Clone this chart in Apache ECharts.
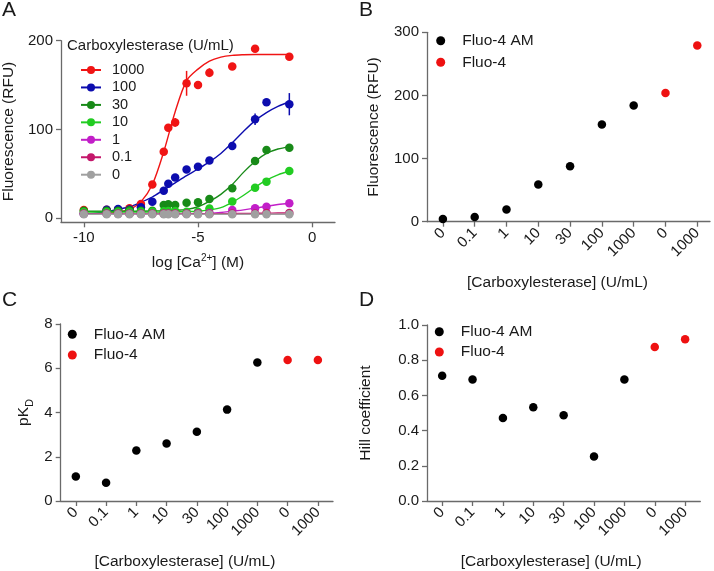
<!DOCTYPE html>
<html><head><meta charset="utf-8">
<script src="https://cdn.jsdelivr.net/npm/echarts@6/dist/echarts.min.js"></script>
<style>html,body{margin:0;padding:0;background:#fff}#c{width:714px;height:571px}</style>
</head><body><div id="c"></div>
<script>
// ---------- Panel A data ----------
const enzymeLevels = ['1000', '100', '30', '10', '1', '0.1', '0'];
const logCa = [-10, -9, -8.5, -8, -7.5, -7, -6.5, -6.3, -6, -5.5, -5, -4.5, -3.5, -2.5, -2, -1];
const pts1000 = [9.4, 9.5, 10, 11.3, 16, 38, 75, 102, 108, 152, 150, 164, 171, 191, null, 182];
const pts100  = [5, 9.5, 10.5, 10, 12.4, 18.7, 31, 39, 46, 55, 58, 65, 81.5, 111.6, 130.8, 128.5];
const pts30   = [8.5, 8.5, 8.5, 9, 8.6, 8.6, 15, 15.8, 15, 17.6, 18, 21.8, 33.8, 64.5, 77, 79.5];
const pts10   = [7, 7, 7, 7.5, 7.5, 7.5, 8, 8.3, 8.3, 7.5, 7.5, 11, 18.8, 34.5, 41.3, 53.3];
const pts1    = [5, 5, 5, 5, 5, 5, 5, 5, 5, 5, 5.5, 6, 9.4, 11.3, 13, 17];
const pts01   = [5, 5, 5, 5, 5, 5, 5, 5, 5, 5, 5, 5, 5.5, 5.5, 6, 6];
const pts0    = [4.5, 4.5, 4.5, 4.5, 4.5, 4.5, 4.5, 4.5, 4.5, 4.5, 4.5, 4.5, 4.5, 4.5, 4.5, 4.5];
const sd1000  = [0, 0, 0, 0, 0, 0, 0, 0, 5, 14, 0, 5, 0, 0, 0, 0];
const sd100   = [0, 0, 0, 0, 0, 0, 0, 0, 0, 0, 0, 0, 0, 6.5, 0, 12.5];
// fitted curves
const curveX   = [-10, -9.5, -9, -8.5, -8, -7.5, -7, -6.5, -6, -5.5, -5, -4.5, -4, -3.5, -3, -2.5, -2, -1.5, -1];
const fit1000  = [5.1, 5.2, 5.7, 6.9, 10, 18.5, 38, 75, 120, 155, 168, 177, 181.5, 183.5, 184.2, 184.5, 184.5, 184.5, 184.5];
const fit100   = [4.8, 5.8, 7.5, 10, 13, 18, 24, 32, 40, 48, 55.5, 63.5, 73, 85, 98, 110, 119, 126, 131];
const fit30    = [8, 8, 8, 8, 8, 8, 8.2, 8.5, 9, 10, 13, 19, 27, 38, 52, 64, 73, 78, 80.5];
const fit10    = [7, 7, 7, 7, 7, 7, 7, 7, 7.2, 7.5, 8, 9.5, 12, 18, 26, 35, 43, 49, 53];
const fit1     = [4.5, 4.5, 4.5, 4.5, 4.5, 4.5, 4.6, 4.7, 4.8, 5, 5.2, 5.6, 6.5, 8, 9.5, 11.5, 13.5, 15.5, 17];
const fit01    = [5, 5, 5, 5, 5, 5, 5, 5, 5, 5, 5, 5.1, 5.2, 5.3, 5.5, 5.6, 5.8, 5.9, 6];
const fit0     = [4.5, 4.5, 4.5, 4.5, 4.5, 4.5, 4.5, 4.5, 4.5, 4.5, 4.5, 4.5, 4.5, 4.5, 4.5, 4.5, 4.5, 4.5, 4.5];
const ticksAX = [-10, -5, 0];
const ticksAY = [0, 100, 200];

// ---------- Panels B, C, D data ----------
const enzymeCats = ['0', '0.1', '1', '10', '30', '100', '1000', '0', '1000'];
const amIdx = [0, 1, 2, 3, 4, 5, 6];
const freeIdx = [7, 8];
const fluoAM_B = [4.2, 7.4, 19.5, 59, 88, 154, 184];
const fluo_B = [204, 279];
const fluoAM_C = [1.11, 0.83, 2.28, 2.6, 3.13, 4.13, 6.26];
const fluo_C = [6.37, 6.37];
const fluoAM_D = [0.711, 0.69, 0.471, 0.533, 0.487, 0.253, 0.69];
const fluo_D = [0.875, 0.919];

// ---------- styling ----------
const FONT = '"Liberation Sans", Arial, sans-serif';
const palette = ['#f01414', '#0c0cae', '#188a18', '#22cc22', '#c21ec8', '#c4176b', '#a0a0a0'];
const AXIS = '#6a6a6a';
const TXT = '#1a1a1a';
const fitSets = [fit1000, fit100, fit30, fit10, fit1, fit01, fit0];
const ptSets = [pts1000, pts100, pts30, pts10, pts1, pts01, pts0];
const sdSets = [sd1000, sd100, null, null, null, null, null];

function baseAxisLine() { return { show: true, onZero: false, lineStyle: { color: AXIS, width: 1.3 } }; }
function tickStyle(extra) { return Object.assign({ show: true, length: 5, lineStyle: { color: AXIS, width: 1.3 } }, extra || {}); }

function catXAxis(grid, max, padRight) {
  const idx = enzymeCats.map((_, i) => i);
  return {
    type: 'value', gridIndex: grid, min: -0.5, max: max,
    axisLine: baseAxisLine(),
    axisTick: tickStyle({ customValues: idx }),
    axisLabel: { customValues: idx, rotate: 45, margin: 9, fontSize: 15, color: TXT, fontFamily: FONT,
      formatter: v => enzymeCats[Math.round(v)] },
    splitLine: { show: false },
    name: '[Carboxylesterase] (U/mL)', nameLocation: 'middle', nameGap: 53,
    nameTextStyle: { fontSize: 15.5, color: TXT, fontFamily: FONT, padding: [0, padRight, 0, 0] }
  };
}
function valYAxis(grid, min, max, interval, name, gap, fmt, rich) {
  const ax = {
    type: 'value', gridIndex: grid, min: min, max: max, interval: interval,
    axisLine: baseAxisLine(), axisTick: tickStyle(),
    axisLabel: { margin: 8, fontSize: 15, color: TXT, fontFamily: FONT, formatter: fmt },
    splitLine: { show: false },
    name: name, nameLocation: 'middle', nameGap: gap, nameRotate: 90,
    nameTextStyle: { fontSize: 15.5, color: TXT, fontFamily: FONT }
  };
  if (rich) ax.nameTextStyle.rich = rich;
  return ax;
}

const series = [];
// Panel A curves (first so that legend uses line+symbol icons)
enzymeLevels.forEach((name, k) => {
  series.push({
    type: 'line', name: name, xAxisIndex: 0, yAxisIndex: 0,
    data: curveX.map((x, i) => [x, fitSets[k][i]]),
    smooth: 0.3, symbol: 'circle', symbolSize: 8, showSymbol: false,
    lineStyle: { color: palette[k], width: 1.4 }, itemStyle: { color: palette[k] },
    silent: true, z: 2
  });
});
// error bars
enzymeLevels.forEach((name, k) => {
  const sd = sdSets[k];
  if (!sd) return;
  const d = [];
  logCa.forEach((x, i) => { if (sd[i] > 0 && ptSets[k][i] != null) d.push([x, ptSets[k][i] - sd[i], ptSets[k][i] + sd[i]]); });
  series.push({
    type: 'custom', xAxisIndex: 0, yAxisIndex: 0, data: d, silent: true, z: 3,
    renderItem: (params, api) => {
      const a = api.coord([api.value(0), api.value(1)]);
      const b = api.coord([api.value(0), api.value(2)]);
      return { type: 'line', shape: { x1: a[0], y1: a[1], x2: b[0], y2: b[1] }, style: { stroke: palette[k], lineWidth: 1.5 } };
    }
  });
});
// points
enzymeLevels.forEach((name, k) => {
  const d = [];
  logCa.forEach((x, i) => { if (ptSets[k][i] != null) d.push([x, ptSets[k][i]]); });
  series.push({
    type: 'scatter', name: name, xAxisIndex: 0, yAxisIndex: 0, data: d,
    symbol: 'circle', symbolSize: 8.5, itemStyle: { color: palette[k], opacity: 1 }, z: 4
  });
});
// Panels B, C, D
[[fluoAM_B, fluo_B], [fluoAM_C, fluo_C], [fluoAM_D, fluo_D]].forEach((pair, g) => {
  series.push({ type: 'scatter', name: 'Fluo-4 AM', xAxisIndex: g + 1, yAxisIndex: g + 1,
    data: amIdx.map((x, i) => [x, pair[0][i]]), symbolSize: 8.5, itemStyle: { color: '#000', opacity: 1 } });
  series.push({ type: 'scatter', name: 'Fluo-4', xAxisIndex: g + 1, yAxisIndex: g + 1,
    data: freeIdx.map((x, i) => [x, pair[1][i]]), symbolSize: 8.5, itemStyle: { color: '#ee1111', opacity: 1 } });
});

function fluoLegend(left, top, gap) {
  return { data: ['Fluo-4 AM', 'Fluo-4'], orient: 'vertical', left: left, top: top, padding: 0,
    itemWidth: 33, itemHeight: 9, itemGap: gap, icon: 'circle', selectedMode: false,
    textStyle: { fontSize: 15.5, lineHeight: 16, color: TXT, fontFamily: FONT } };
}

const option = {
  animation: false,
  backgroundColor: '#fff',
  textStyle: { fontFamily: FONT },
  title: [
    { text: 'A', left: 2, top: 0, padding: 0, textStyle: { fontSize: 21, fontWeight: 'normal', color: TXT, fontFamily: FONT } },
    { text: 'B', left: 359, top: 0, padding: 0, textStyle: { fontSize: 21, fontWeight: 'normal', color: TXT, fontFamily: FONT } },
    { text: 'C', left: 2, top: 290, padding: 0, textStyle: { fontSize: 21, fontWeight: 'normal', color: TXT, fontFamily: FONT } },
    { text: 'D', left: 359, top: 290, padding: 0, textStyle: { fontSize: 21, fontWeight: 'normal', color: TXT, fontFamily: FONT } },
    { text: 'Carboxylesterase (U/mL)', left: 67, top: 38, padding: 0, textStyle: { fontSize: 15, fontWeight: 'normal', color: TXT, fontFamily: FONT } }
  ],
  legend: [
    { data: enzymeLevels, orient: 'vertical', left: 80, top: 62.5, padding: 0,
      itemWidth: 20, itemHeight: 10, itemGap: 2.45, selectedMode: false,
      textStyle: { fontSize: 14.5, lineHeight: 15, color: TXT, fontFamily: FONT, padding: [0, 0, 0, 6] } },
    fluoLegend(436.2, 32.7, 5.6),
    fluoLegend(67.8, 326.3, 4.7),
    fluoLegend(434.8, 323.7, 4.3)
  ],
  grid: [
    { left: 60.7, top: 40.7, width: 274.3, height: 181.6 },
    { left: 427, top: 32.3, width: 283, height: 189.4 },
    { left: 60.7, top: 324, width: 272.3, height: 182 },
    { left: 427, top: 325, width: 273.3, height: 182 }
  ],
  xAxis: [
    { type: 'value', gridIndex: 0, min: -11, max: 1,
      axisLine: baseAxisLine(), axisTick: tickStyle({ customValues: ticksAX }),
      axisLabel: { customValues: ticksAX, margin: 8, fontSize: 15, color: TXT, fontFamily: FONT },
      splitLine: { show: false },
      name: '{b|log [Ca}{p|2+}{b|] (M)}', nameLocation: 'middle', nameGap: 31,
      nameTextStyle: { color: TXT, fontFamily: FONT, rich: {
        b: { fontSize: 15.5, color: TXT, fontFamily: FONT, verticalAlign: 'bottom' },
        p: { fontSize: 10, color: TXT, fontFamily: FONT, verticalAlign: 'bottom', padding: [0, 0, 7, 0] } } } },
    catXAxis(1, 8.4, 22),
    catXAxis(2, 8.5, 24),
    catXAxis(3, 8.5, 25)
  ],
  yAxis: [
    { type: 'value', gridIndex: 0, min: -4.5, max: 200,
      axisLine: baseAxisLine(), axisTick: tickStyle({ customValues: ticksAY }),
      axisLabel: { customValues: ticksAY, margin: 8, fontSize: 15, color: TXT, fontFamily: FONT },
      splitLine: { show: false },
      name: 'Fluorescence (RFU)', nameLocation: 'middle', nameGap: 44, nameRotate: 90,
      nameTextStyle: { fontSize: 15.5, color: TXT, fontFamily: FONT } },
    valYAxis(1, 0, 300, 100, 'Fluorescence (RFU)', 45),
    valYAxis(2, 0, 8, 2, '{b|pK}{s|D}', 25, null, {
      b: { fontSize: 15.5, color: TXT, fontFamily: FONT, verticalAlign: 'bottom', padding: [0, 0, 4, 0] },
      s: { fontSize: 11, color: TXT, fontFamily: FONT, verticalAlign: 'bottom' } }),
    valYAxis(3, 0, 1, 0.2, 'Hill coefficient', 53, v => v.toFixed(1))
  ],
  series: series
};
const chart = echarts.init(document.getElementById('c'), null, { renderer: 'canvas' });
chart.setOption(option);
</script></body></html>
